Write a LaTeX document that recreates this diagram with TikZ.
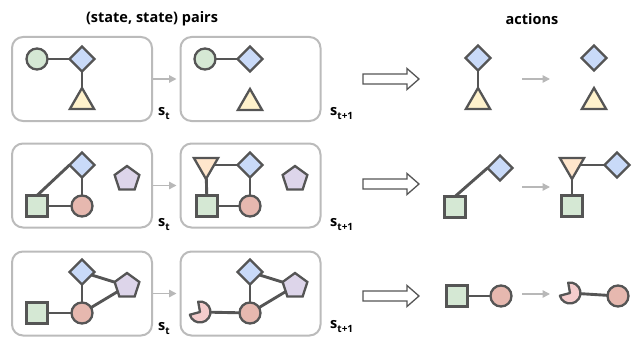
\documentclass[tikz,border=0pt]{standalone}
\usepackage{fontspec}
\setmainfont{Open Sans}
\usetikzlibrary{shapes.geometric,arrows.meta}
\definecolor{edgec}{HTML}{555555}
\definecolor{cbox}{HTML}{BBBBBB}
\definecolor{carrow}{HTML}{B8B8B8}
\definecolor{cgreen}{HTML}{D5E8D4}
\definecolor{cblue}{HTML}{C9DAF8}
\definecolor{cyellow}{HTML}{FFF2CC}
\definecolor{cred}{HTML}{E6B8AF}
\definecolor{cpurple}{HTML}{DDD5EA}
\definecolor{corange}{HTML}{FFE6CC}
\definecolor{cpink}{HTML}{F4CCCC}
\tikzset{
  sh/.style={draw=edgec, line width=2.3pt, inner sep=0pt, outer sep=0pt},
  gc/.style={sh, circle, minimum size=21pt, fill=cgreen},
  rc/.style={sh, circle, minimum size=21pt, fill=cred},
  pmbase/.style={circle, minimum size=21pt, inner sep=0pt, outer sep=0pt},
  dm/.style={sh, diamond, minimum size=25pt, fill=cblue},
  sqr/.style={sh, rectangle, minimum size=21pt, fill=cgreen},
  tri/.style={sh, regular polygon, regular polygon sides=3, minimum size=28pt, fill=cyellow, anchor=north},
  itri/.style={sh, regular polygon, regular polygon sides=3, shape border rotate=180, minimum size=28pt, fill=corange},
  pent/.style={sh, regular polygon, regular polygon sides=5, minimum size=26pt, fill=cpurple},
  ln/.style={draw=edgec, line width=2.9pt},
  statebox/.style={draw=cbox, line width=2pt, rounded corners=11pt, minimum width=140pt, minimum height=84pt, inner sep=0pt},
  garrow/.style={draw=carrow, line width=1.5pt, -{Triangle[length=7.5pt,width=7.5pt]}},
  hollow/.style={draw=edgec, line width=1.3pt, fill=white},
  ttl/.style={font=\fontsize{14.5}{16}\selectfont\bfseries},
  lbl/.style={font=\fontsize{14.5}{16}\selectfont\bfseries, inner sep=0pt},
  bigarrow/.pic={\draw[hollow] (-28,-5) -- (16,-5) -- (16,-10.5) -- (28,0) -- (16,10.5) -- (16,5) -- (-28,5) -- cycle;},
}
\newcommand{\subt}[1]{\raisebox{-0.3em}{\fontsize{10}{11}\selectfont #1}}
\newcommand{\pacman}[1]{\begin{scope}[shift={(#1.center)}, x=1pt, y=1pt]
  \draw[draw=edgec, line width=2.3pt, fill=cpink, line join=round] (0,0) -- (100:10.5) arc[start angle=100, end angle=-165, radius=10.5] -- cycle;
\end{scope}}
\begin{document}
\begin{tikzpicture}[x=1pt, y=-1pt]
\useasboundingbox (0,0) rectangle (632,337);
% titles
\node[ttl] (t1) at (152,19) {(state, state) pairs};
\node[ttl] (t2) at (532,19) {actions};

% ---------- row 1 ----------
\node[statebox] (b11) at (82,79) {};
\node[statebox] (b12) at (250.5,79) {};
\draw[garrow] (b11.east) -- ([xshift=-3pt]b12.west);
\node[lbl, anchor=base west] (l11) at (158,115) {s\subt{t}};
\node[lbl, anchor=base west] (l12) at (330,115) {s\subt{t+1}};
\node[gc] (a1) at (37,59) {};
\node[dm] (a2) at (82,59) {};
\node[tri] (a3) at (82,88) {};
\draw[ln] (a1) -- (a2);
\draw[ln] (a2) -- (a3);
\node[gc] (a4) at (205,59) {};
\node[dm] (a5) at (250,59) {};
\node[tri] (a6) at (250,89) {};
\draw[ln] (a4) -- (a5);
\pic at (391,79) {bigarrow};
\node[dm] (a7) at (478,58) {};
\node[tri] (a8) at (478,88) {};
\draw[ln] (a7) -- (a8);
\coordinate (g1a) at (522,79);
\coordinate (g1b) at (550,79);
\draw[garrow] (g1a) -- (g1b);
\node[dm] (a9) at (594,58) {};
\node[tri] (a10) at (594,88) {};

% ---------- row 2 ----------
\node[statebox] (b21) at (82,185.5) {};
\node[statebox] (b22) at (250.5,185.5) {};
\draw[garrow] (b21.east) -- ([xshift=-3pt]b22.west);
\node[lbl, anchor=base west] (l21) at (158,226) {s\subt{t}};
\node[lbl, anchor=base west] (l22) at (330,226) {s\subt{t+1}};
\node[dm] (c1) at (82,165) {};
\node[sqr] (c2) at (37,206) {};
\node[rc] (c3) at (82,206) {};
\node[pent] (c4) at (127,179) {};
\draw[ln] (c2.north) -- (c1.west);
\draw[ln] (c1) -- (c3);
\draw[ln] (c2) -- (c3);
\node[itri] (c5) at (206,165) {};
\node[dm] (c6) at (250,165) {};
\node[sqr] (c7) at (207,206) {};
\node[rc] (c8) at (250,206) {};
\node[pent] (c9) at (295,179) {};
\draw[ln] (c5) -- (c6);
\draw[ln] (c5) -- (c7);
\draw[ln] (c6) -- (c8);
\draw[ln] (c7) -- (c8);
\pic at (391,184) {bigarrow};
\node[sqr] (c10) at (455,207) {};
\node[dm] (c11) at (500,168) {};
\draw[ln] (c10.north) -- (c11.west);
\coordinate (g2a) at (522,187);
\coordinate (g2b) at (550,187);
\draw[garrow] (g2a) -- (g2b);
\node[itri] (c12) at (572,165) {};
\node[dm] (c13) at (617,165) {};
\node[sqr] (c14) at (572,206) {};
\draw[ln] (c12) -- (c13);
\draw[ln] (c12) -- (c14);

% ---------- row 3 ----------
\node[statebox] (b31) at (82,293.5) {};
\node[statebox] (b32) at (250.5,293.5) {};
\draw[garrow] (b31.east) -- ([xshift=-3pt]b32.west);
\node[lbl, anchor=base west] (l31) at (158,330) {s\subt{t}};
\node[lbl, anchor=base west] (l32) at (330,328) {s\subt{t+1}};
\node[dm] (e1) at (82,272) {};
\node[sqr] (e2) at (37,313) {};
\node[rc] (e3) at (82,313) {};
\node[pent] (e4) at (127,286) {};
\draw[ln] (e1) -- (e3);
\draw[ln] (e2) -- (e3);
\draw[ln] (e1) -- (e4);
\draw[ln] (e3) -- (e4);
\node[pmbase] (e5) at (200,312) {};
\node[dm] (e6) at (250,272) {};
\node[rc] (e7) at (250,313) {};
\node[pent] (e8) at (295,286) {};
\draw[ln] (e5) -- (e7);
\draw[ln] (e6) -- (e7);
\draw[ln] (e6) -- (e8);
\draw[ln] (e7) -- (e8);
\pacman{e5}
\pic at (391,296) {bigarrow};
\node[sqr] (e9) at (457,296) {};
\node[rc] (e10) at (501,296) {};
\draw[ln] (e9) -- (e10);
\coordinate (g3a) at (522,294);
\coordinate (g3b) at (550,294);
\draw[garrow] (g3a) -- (g3b);
\node[pmbase] (e11) at (570,293) {};
\node[rc] (e12) at (618,296) {};
\draw[ln] (e11) -- (e12);
\pacman{e11}
\end{tikzpicture}
\end{document}
